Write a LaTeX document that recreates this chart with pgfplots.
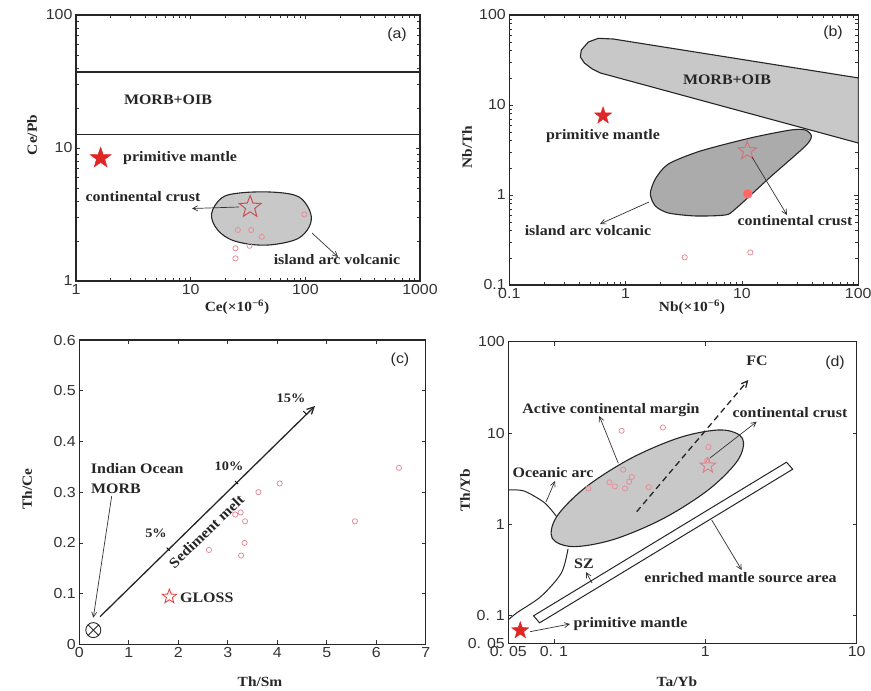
\documentclass[border=0pt]{standalone}
\usepackage{pgfplots}
\pgfplotsset{compat=1.18}
\usepackage{fontspec}
\setmainfont[FakeStretch=1.1]{Liberation Serif}
\newfontfamily\arial[FakeStretch=1.1]{Liberation Sans}
\usetikzlibrary{arrows.meta}
\definecolor{ptc}{HTML}{E58F98}
\definecolor{starred}{HTML}{E02525}
\definecolor{ostar}{HTML}{C8505A}
\definecolor{lgray}{HTML}{C8C8C8}
\definecolor{dgray}{HTML}{ABABAB}
\pgfdeclareplotmark{fstar}{%
 \pgfpathmoveto{\pgfpointpolar{90}{\pgfplotmarksize}}%
 \pgfpathlineto{\pgfpointpolar{126}{0.4*\pgfplotmarksize}}%
 \pgfpathlineto{\pgfpointpolar{162}{\pgfplotmarksize}}%
 \pgfpathlineto{\pgfpointpolar{198}{0.4*\pgfplotmarksize}}%
 \pgfpathlineto{\pgfpointpolar{234}{\pgfplotmarksize}}%
 \pgfpathlineto{\pgfpointpolar{270}{0.4*\pgfplotmarksize}}%
 \pgfpathlineto{\pgfpointpolar{306}{\pgfplotmarksize}}%
 \pgfpathlineto{\pgfpointpolar{342}{0.4*\pgfplotmarksize}}%
 \pgfpathlineto{\pgfpointpolar{18}{\pgfplotmarksize}}%
 \pgfpathlineto{\pgfpointpolar{54}{0.4*\pgfplotmarksize}}%
 \pgfpathclose\pgfusepathqfillstroke}
\pgfdeclareplotmark{ostar}{%
 \pgfpathmoveto{\pgfpointpolar{90}{\pgfplotmarksize}}%
 \pgfpathlineto{\pgfpointpolar{126}{0.42*\pgfplotmarksize}}%
 \pgfpathlineto{\pgfpointpolar{162}{\pgfplotmarksize}}%
 \pgfpathlineto{\pgfpointpolar{198}{0.42*\pgfplotmarksize}}%
 \pgfpathlineto{\pgfpointpolar{234}{\pgfplotmarksize}}%
 \pgfpathlineto{\pgfpointpolar{270}{0.42*\pgfplotmarksize}}%
 \pgfpathlineto{\pgfpointpolar{306}{\pgfplotmarksize}}%
 \pgfpathlineto{\pgfpointpolar{342}{0.42*\pgfplotmarksize}}%
 \pgfpathlineto{\pgfpointpolar{18}{\pgfplotmarksize}}%
 \pgfpathlineto{\pgfpointpolar{54}{0.42*\pgfplotmarksize}}%
 \pgfpathclose\pgfusepathqstroke}
\pgfplotsset{
  base/.style={scale only axis, anchor=south west,
    axis line style={line width=1.1pt, black!85},
    tick style={black!80, line width=0.7pt}, major tick length=4pt,
    tick align=inside,
    tick label style={font=\arial\fontsize{14.5}{16}\selectfont, text=black!80},
    /pgf/number format/assume math mode=true,
    /pgf/number format/1000 sep={}},
  reg/.style={draw=black!85, line width=1.1pt},
  samp/.style={only marks, mark=o, mark size=2.6pt, ptc, line width=0.8pt},
}
\tikzset{
  lbl/.style={font=\bfseries\fontsize{14.5}{16}\selectfont, text=black!85, inner sep=0pt},
  albl/.style={font=\bfseries\fontsize{14}{16}\selectfont, text=black!85, inner sep=0pt},
  pl/.style={font=\arial\fontsize{14.5}{16}\selectfont, text=black!85, inner sep=0pt},
  arr/.style={-{Straight Barb[length=5pt,width=5pt]}, line width=0.7pt, black!80},
}
\begin{document}
\begin{tikzpicture}
\useasboundingbox (0pt,0pt) rectangle (871pt,-691pt);
% ---------------- (a)
\begin{axis}[base, at={(76pt,-281pt)}, width=344pt, height=266pt,
  xmode=log, ymode=log, xmin=1, xmax=1000, ymin=1, ymax=100,
  xtick={1,10,100,1000}, ytick={1,10,100}, log ticks with fixed point]
\addplot[black!85, line width=1.1pt] coordinates {(1,37.3) (1000,37.3)};
\addplot[black!85, line width=1.1pt] coordinates {(1,12.7) (1000,12.7)};
\addplot[reg, fill=lgray, smooth cycle, tension=0.6] coordinates {
 (15.2,3.19) (18.6,4.21) (26.7,4.59) (48.6,4.67) (80.2,4.43) (100,3.86)
 (112.8,3.03) (104,2.42) (80.2,2.03) (44.0,1.86) (24.1,2.0) (17.2,2.42)};
\addplot[samp] coordinates {(25.8,2.42) (33.7,2.42) (41.7,2.15) (24.6,1.76) (32.6,1.84) (24.6,1.48) (98,3.17)};
\addplot[only marks, mark=fstar, mark size=11pt, draw=starred, fill=starred] coordinates {(1.64,8.4)};
\addplot[only marks, mark=ostar, mark size=11.5pt, draw=ostar, line width=1pt] coordinates {(33,3.6)};
\end{axis}
% ---------------- (b)
\begin{axis}[base, at={(509.3pt,-285pt)}, width=349pt, height=270pt,
  xmode=log, ymode=log, xmin=0.1, xmax=100, ymin=0.1, ymax=100,
  xtick={0.1,1,10,100}, ytick={0.1,1,10,100}, log ticks with fixed point]
\addplot[reg, fill=lgray, line join=round] coordinates {
 (0.784,54.1) (0.582,55.1) (0.478,50.1) (0.416,40.8) (0.408,34.2) (0.4415,29.3)
 (0.5175,25.1) (0.606,22.7) (100,3.78) (100,20)} -- cycle;
\addplot[reg, fill=dgray, smooth cycle, tension=0.45] coordinates {
 (1.63,1.03) (1.80,1.51) (2.33,2.21) (4.39,3.08) (11.8,4.30) (26.1,5.27)
 (35.1,5.27) (39.5,4.52) (35.1,3.50) (17.5,1.58) (8.77,0.699) (7.19,0.60)
 (3.97,0.585) (2.33,0.631) (1.80,0.755)};
\addplot[samp] coordinates {(3.22,0.203) (11.8,0.23)};
\addplot[only marks, mark=*, mark size=4.5pt, draw=red!55, fill=red!60, line width=0.6pt] coordinates {(11.2,1.03)};
\addplot[only marks, mark=fstar, mark size=9pt, draw=starred, fill=starred] coordinates {(0.64,7.6)};
\addplot[only marks, mark=ostar, mark size=9.5pt, draw=ostar!80, line width=1pt] coordinates {(11.1,3.1)};
\end{axis}
% ---------------- (c)
\begin{axis}[base, at={(79.3pt,-644.3pt)}, width=346.4pt, height=304.3pt,
  xmin=0, xmax=7, ymin=0, ymax=0.6, xtick={0,1,...,7}, ytick={0,0.1,...,0.6},
  yticklabel style={/pgf/number format/fixed}]
\addplot[samp] coordinates {(6.46,0.348) (4.05,0.317) (3.62,0.300) (3.15,0.256) (3.26,0.260)
 (3.35,0.2425) (3.34,0.200) (3.27,0.175) (2.62,0.186) (5.57,0.2425)};
\addplot[only marks, mark=ostar, mark size=7.5pt, draw=starred!85, line width=0.9pt] coordinates {(1.82,0.094)};
\addplot[only marks, mark=otimes, mark size=7.5pt, draw=black!85, fill=white, line width=0.9pt] coordinates {(0.283,0.028)};
\end{axis}
% ---------------- (d)
\begin{axis}[base, at={(508.3pt,-643.3pt)}, width=348.4pt, height=301.6pt,
  xmode=log, ymode=log, xmin=0.05, xmax=10, ymin=0.05, ymax=100,
  xtick={0.05,0.1,1,10}, xticklabels={0. 05,0. 1,1,10},
  ytick={0.05,0.1,1,10,100}, yticklabels={0. 05,0. 1,1,10,100}]
\addplot[reg, fill=lgray, smooth cycle, tension=0.55] coordinates {
 (1.761,8.75) (1.282,10.82) (0.690,9.02) (0.324,5.31) (0.1625,2.56) (0.1045,1.221)
 (0.0975,0.707) (0.134,0.572) (0.249,0.686) (0.530,1.164) (1.057,2.418) (1.642,5.06)};
\addplot[reg, line width=1pt, smooth] coordinates {(0.05,2.39) (0.0636,2.32) (0.0866,1.73) (0.1036,1.233)};
\addplot[reg, line width=1pt, smooth] coordinates {(0.124,0.541) (0.112,0.294) (0.0822,0.163) (0.0573,0.1087) (0.05,0.0904)};
\addplot[reg, line width=1pt, fill=white] coordinates {(0.0734,0.100) (3.44,4.80) (3.78,4.02) (0.0805,0.0838)} -- cycle;
\addplot[samp] coordinates {(0.28,10.6) (0.525,11.5) (0.287,3.98) (0.233,2.89) (0.253,2.61) (0.295,2.48)
 (0.314,2.93) (0.327,3.31) (0.169,2.48) (0.423,2.56) (1.05,7.03) (1.03,5.0)};
\addplot[only marks, mark=ostar, mark size=8pt, draw=ostar!70, line width=1pt] coordinates {(1.04,4.4)};
\addplot[only marks, mark=fstar, mark size=9pt, draw=starred, fill=starred] coordinates {(0.060,0.069)};
\end{axis}
\begin{scope}[x=1pt,y=-1pt]
% (a)
\node[pl] at (397,35) {(a)};
\node[lbl] at (168,100) {MORB+OIB};
\node[lbl, anchor=west] at (123,158) {primitive mantle};
\node[lbl] at (143,197) {continental crust};
\node[lbl] at (337,260) {island arc volcanic};
\draw[arr] (239,207) -- (192,208.5);
\draw[arr] (312,233) -- (338,257);
\node[albl, rotate=90] at (32,135) {Ce/Pb};
\node[albl] at (237,307) {Ce(×10\textsuperscript{−6})};
% (b)
\node[pl] at (833,33) {(b)};
\node[lbl] at (727,80) {MORB+OIB};
\node[lbl] at (603,136) {primitive mantle};
\node[lbl] at (588,231) {island arc volcanic};
\node[lbl] at (795,221) {continental crust};
\draw[arr] (649,202) -- (600,224);
\draw[arr] (752,157) -- (787,215);
\node[albl, rotate=90] at (467,147) {Nb/Th};
\node[albl] at (692,307) {Nb(×10\textsuperscript{−6})};
% (c)
\draw[-{Straight Barb[length=7pt,width=7pt]}, line width=1.3pt, black!85] (100,616.7) -- (315,406);
\draw[line width=0.8pt] (166.7,547.7) -- ++(3,3);
\draw[line width=0.8pt] (235,481) -- ++(3,3);
\draw[line width=0.8pt] (303.3,411) -- ++(3,3);
\node[lbl, font=\bfseries\fontsize{13}{15}\selectfont] at (156,533) {5\%};
\node[lbl, font=\bfseries\fontsize{13}{15}\selectfont] at (229,466.7) {10\%};
\node[lbl, font=\bfseries\fontsize{13}{15}\selectfont] at (291,398.3) {15\%};
\node[lbl, rotate=44] at (206.5,531.5) {Sediment melt};
\node[lbl] at (137.3,468.3) {Indian Ocean};
\node[lbl] at (116,488.3) {MORB};
\draw[arr] (111.7,496) -- (93.3,617.7);
\node[lbl, anchor=west] at (180,597.3) {GLOSS};
\node[pl] at (400,359.3) {(c)};
\node[albl, rotate=90] at (27,489) {Th/Ce};
\node[albl] at (260,682) {Th/Sm};
% (d)
\draw[dash pattern=on 6pt off 4pt, line width=1.3pt, black!85, -{Straight Barb[length=6pt,width=6pt]}] (636.7,511.7) -- (748.3,380);
\node[pl] at (835,363) {(d)};
\node[lbl] at (757,361) {FC};
\node[lbl] at (611,410) {Active continental margin};
\node[lbl] at (790,412.7) {continental crust};
\node[lbl] at (553,472.7) {Oceanic arc};
\node[lbl] at (584,563.3) {SZ};
\node[lbl] at (740.5,577.7) {enriched mantle source area};
\node[lbl] at (630.5,624) {primitive mantle};
\draw[arr] (618.3,463.3) -- (599.3,416);
\draw[arr] (710,458) -- (756.7,421.7);
\draw[arr] (546,502) -- (555,481);
\draw[arr] (592,583) -- (586,572);
\draw[arr] (711.7,520) -- (741.7,570);
\draw[arr] (530,631.7) -- (570,624);
\node[albl, rotate=90] at (465,490) {Th/Yb};
\node[albl] at (677,682) {Ta/Yb};
\end{scope}
\end{tikzpicture}
\end{document}
